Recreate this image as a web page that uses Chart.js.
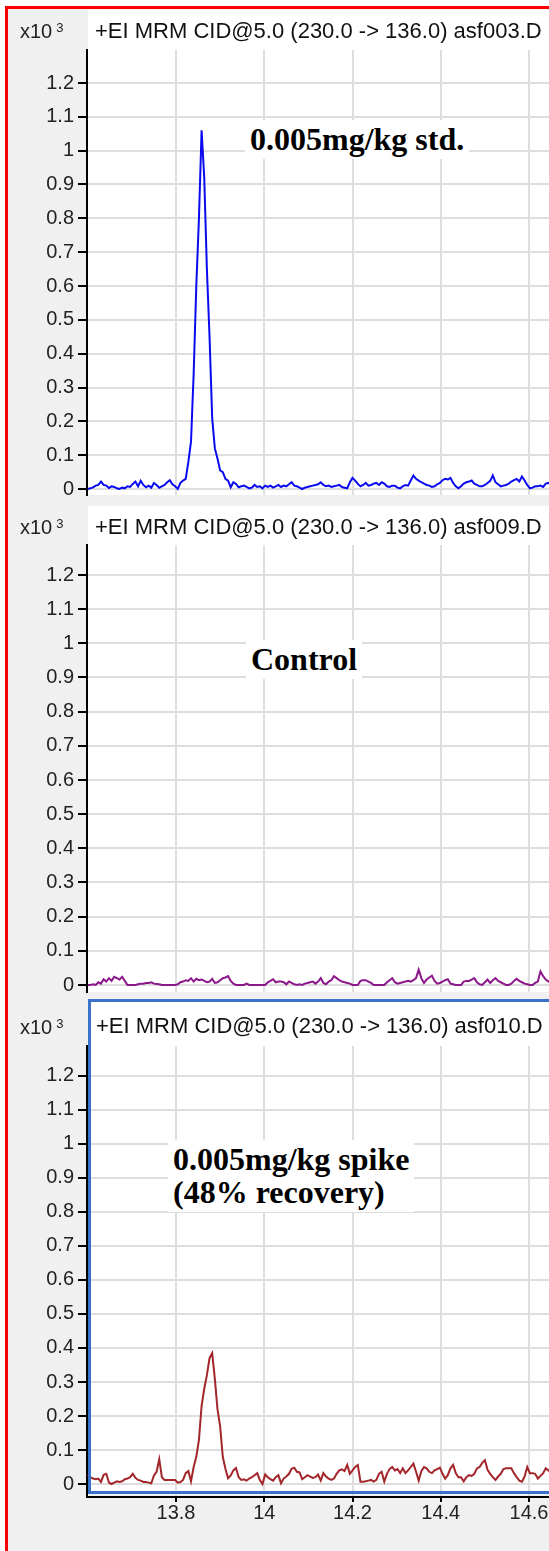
<!DOCTYPE html>
<html><head><meta charset="utf-8">
<script src="https://cdn.jsdelivr.net/npm/chart.js@4.4.1/dist/chart.umd.min.js"></script>
<style>
html,body{margin:0;padding:0;background:#fff;width:549px;height:1551px;overflow:hidden;position:relative;}
#frame{position:absolute;left:5px;top:6px;width:600px;height:1600px;border-left:3px solid #ff0000;border-top:3px solid #ff0000;background:#f0f0f0;}
.white{position:absolute;background:#fff;}
canvas{position:absolute;}
.mult{position:absolute;font:20px "Liberation Sans",Arial,sans-serif;color:#222;line-height:22px;white-space:nowrap;}
.mult sup{font-size:13px;vertical-align:top;position:relative;top:-3px;margin-left:4px;}
.title{position:absolute;font:22px "Liberation Sans",Arial,sans-serif;color:#111;white-space:nowrap;line-height:24px;}
.note{position:absolute;background:#fff;font:bold 32px "Liberation Serif","Times New Roman",serif;color:#000;white-space:nowrap;line-height:33px;padding:3px 5px;}
#blueBox{position:absolute;border:3px solid #3b72c9;}
</style></head>
<body>
<div id="frame"></div>
<div class="white" style="left:88px;top:10px;width:470px;height:485px;"></div>
<div class="white" style="left:88px;top:506px;width:470px;height:486px;"></div>
<div class="white" style="left:91px;top:1002px;width:470px;height:489px;"></div>

<canvas id="c1" width="541" height="469" style="left:8px;top:38px;"></canvas>
<canvas id="c2" width="541" height="471" style="left:8px;top:533px;"></canvas>
<canvas id="c3" width="541" height="493" style="left:8px;top:1034px;"></canvas>

<div id="blueBox" style="left:88px;top:999px;width:470px;height:489px;"></div>

<div class="mult" style="left:20px;top:20px;">x10<sup>3</sup></div>
<div class="title" style="left:95px;top:19px;">+EI MRM CID@5.0 (230.0 -&gt; 136.0) asf003.D</div>
<div class="mult" style="left:20px;top:516px;">x10<sup>3</sup></div>
<div class="title" style="left:95px;top:515px;">+EI MRM CID@5.0 (230.0 -&gt; 136.0) asf009.D</div>
<div class="mult" style="left:20px;top:1016px;">x10<sup>3</sup></div>
<div class="title" style="left:96px;top:1014px;">+EI MRM CID@5.0 (230.0 -&gt; 136.0) asf010.D</div>

<div class="note" style="left:245px;top:120px;">0.005mg/kg std.</div>
<div class="note" style="left:246px;top:640px;">Control</div>
<div class="note" style="left:168px;top:1140px;">0.005mg/kg spike<br>(48% recovery)</div>

<script>
// acquisition grid (retention time, min)
const startTime = 13.6;
const sampleInterval = 0.006;

// abundance, x10^3 counts
const stdValues = [0.000,0.002,0.005,0.010,0.012,0.022,0.012,0.010,0.003,0.008,
 0.006,0.002,0.000,0.004,0.002,0.008,0.006,0.015,0.022,0.008,
 0.024,0.012,0.005,0.010,0.004,0.018,0.012,0.004,0.008,0.012,
 0.020,0.026,0.014,0.008,0.000,0.018,0.025,0.030,0.080,0.140,
 0.340,0.600,0.800,1.060,0.920,0.650,0.450,0.210,0.120,0.090,
 0.055,0.050,0.030,0.025,0.005,0.020,0.015,0.005,0.008,0.010,
 0.006,0.002,0.004,0.012,0.006,0.008,0.002,0.010,0.006,0.010,
 0.004,0.008,0.012,0.006,0.010,0.008,0.014,0.020,0.010,0.008,
 0.004,0.000,0.004,0.006,0.008,0.010,0.012,0.014,0.020,0.012,
 0.008,0.010,0.006,0.008,0.010,0.012,0.006,0.004,0.002,0.020,
 0.033,0.025,0.015,0.008,0.012,0.018,0.010,0.012,0.016,0.018,
 0.012,0.020,0.016,0.008,0.006,0.010,0.010,0.004,0.002,0.008,
 0.012,0.010,0.025,0.040,0.030,0.025,0.020,0.016,0.012,0.010,
 0.006,0.008,0.014,0.018,0.026,0.030,0.028,0.033,0.018,0.008,
 0.002,0.008,0.016,0.020,0.022,0.025,0.016,0.012,0.008,0.008,
 0.012,0.018,0.024,0.040,0.020,0.014,0.008,0.010,0.012,0.016,
 0.022,0.026,0.030,0.022,0.037,0.025,0.012,0.002,0.004,0.008,
 0.008,0.010,0.006,0.016,0.018,0.015];

const controlValues = [0.000,0.000,0.002,0.000,0.008,0.004,0.017,0.010,0.020,0.012,
 0.024,0.020,0.016,0.024,0.012,0.000,0.000,0.000,0.000,0.002,
 0.004,0.004,0.006,0.006,0.008,0.004,0.003,0.002,0.000,0.000,
 0.000,0.000,0.000,0.000,0.002,0.008,0.010,0.014,0.012,0.020,
 0.010,0.018,0.014,0.016,0.012,0.008,0.010,0.018,0.006,0.008,
 0.014,0.020,0.022,0.026,0.012,0.004,0.000,0.000,0.000,0.000,
 0.004,0.000,0.000,0.000,0.000,0.000,0.000,0.000,0.008,0.012,
 0.017,0.008,0.010,0.010,0.008,0.002,0.010,0.006,0.002,0.000,
 0.002,0.000,0.004,0.006,0.008,0.010,0.004,0.010,0.020,0.006,
 0.002,0.010,0.014,0.026,0.020,0.014,0.010,0.008,0.006,0.004,
 0.000,0.000,0.000,0.012,0.014,0.014,0.010,0.006,0.000,0.000,
 0.000,0.000,0.000,0.008,0.014,0.020,0.008,0.004,0.006,0.008,
 0.010,0.012,0.010,0.014,0.020,0.045,0.020,0.006,0.016,0.022,
 0.027,0.012,0.004,0.006,0.010,0.014,0.017,0.004,0.002,0.000,
 0.000,0.000,0.010,0.012,0.012,0.016,0.020,0.008,0.002,0.000,
 0.008,0.016,0.006,0.014,0.020,0.012,0.008,0.004,0.000,0.000,
 0.004,0.012,0.018,0.012,0.008,0.004,0.002,0.000,0.000,0.006,
 0.010,0.040,0.026,0.016,0.010,0.008];

const spikeValues = [0.027,0.020,0.016,0.014,0.016,0.006,0.027,0.030,0.004,0.000,
 0.004,0.008,0.006,0.008,0.014,0.016,0.020,0.030,0.018,0.012,
 0.010,0.006,0.006,0.004,0.002,0.025,0.036,0.073,0.020,0.012,
 0.012,0.012,0.012,0.012,0.004,0.006,0.012,0.032,0.038,0.008,
 0.050,0.080,0.130,0.230,0.280,0.320,0.370,0.385,0.310,0.220,
 0.170,0.080,0.045,0.017,0.025,0.040,0.047,0.020,0.012,0.014,
 0.010,0.016,0.020,0.026,0.032,0.012,0.000,0.028,0.020,0.014,
 0.010,0.020,0.026,0.002,0.016,0.022,0.030,0.045,0.048,0.036,
 0.034,0.014,0.020,0.026,0.022,0.018,0.020,0.028,0.010,0.032,
 0.022,0.016,0.012,0.016,0.030,0.040,0.043,0.038,0.056,0.030,
 0.040,0.050,0.056,0.007,0.007,0.008,0.010,0.012,0.007,0.012,
 0.030,0.036,0.007,0.030,0.044,0.050,0.040,0.044,0.032,0.046,
 0.032,0.040,0.050,0.060,0.036,0.010,0.038,0.050,0.046,0.036,
 0.032,0.040,0.044,0.048,0.030,0.016,0.026,0.046,0.056,0.032,
 0.020,0.020,0.008,0.020,0.026,0.024,0.030,0.046,0.050,0.062,
 0.070,0.042,0.030,0.020,0.012,0.022,0.030,0.044,0.046,0.046,
 0.046,0.032,0.020,0.010,0.007,0.022,0.050,0.032,0.032,0.030,
 0.016,0.024,0.032,0.046,0.040,0.035];

const xTickValues = [13.8, 14, 14.2, 14.4, 14.6];
const xTickLabels = ['13.8', '14', '14.2', '14.4', '14.6'];
const yTickValues = [0, 0.1, 0.2, 0.3, 0.4, 0.5, 0.6, 0.7, 0.8, 0.9, 1, 1.1, 1.2];
const yTickLabels = ['0', '0.1', '0.2', '0.3', '0.4', '0.5', '0.6', '0.7', '0.8', '0.9', '1', '1.1', '1.2'];

const X_MIN = 13.5983, X_MAX = 14.6453;
const FONT = '"Liberation Sans", Arial, sans-serif';

function toPoints(vals) {
  return vals.map((v, i) => ({ x: startTime + i * sampleInterval, y: v }));
}

function buildChart(id, vals, color, yMin, yMax, showX) {
  return new Chart(document.getElementById(id), {
    type: 'line',
    data: { datasets: [{ data: toPoints(vals), borderColor: color, borderWidth: 2, pointRadius: 0, tension: 0, fill: false }] },
    options: {
      responsive: false, animation: false, events: [], devicePixelRatio: 1,
      layout: { padding: { top: 12, bottom: showX ? 0 : 12, left: 0, right: 0 } },
      plugins: { legend: { display: false }, tooltip: { enabled: false } },
      scales: {
        x: {
          type: 'linear', min: X_MIN, max: X_MAX,
          afterBuildTicks: s => { s.ticks = xTickValues.map(v => ({ value: v })); },
          afterFit: s => { s.paddingLeft = 0; s.paddingRight = 0; s.height = showX ? 30 : 0; },
          grid: { color: '#dedede', lineWidth: 2, drawTicks: showX, tickLength: 5, tickColor: '#000', tickWidth: 2 },
          border: { display: showX, color: '#000', width: 2 },
          ticks: { display: showX, padding: -1, color: '#222', font: { family: FONT, size: 20 }, maxRotation: 0, autoSkip: false,
                   callback: (v, i) => xTickLabels[i] }
        },
        y: {
          min: yMin, max: yMax,
          afterBuildTicks: s => { s.ticks = yTickValues.map(v => ({ value: v })); },
          afterFit: s => { s.width = 79; s.paddingTop = 0; s.paddingBottom = 0; },
          grid: { color: '#dedede', lineWidth: 2, drawTicks: true, tickLength: 9, tickColor: '#000', tickWidth: 2 },
          border: { display: true, color: '#000', width: 2 },
          ticks: { padding: 4, color: '#222', font: { family: FONT, size: 20 }, autoSkip: false,
                   callback: (v, i) => yTickLabels[i] }
        }
      }
    }
  });
}

buildChart('c1', stdValues, '#0a0af0', -0.0177, 1.2975, false);
buildChart('c2', controlValues, '#8b178b', -0.0205, 1.2878, false);
buildChart('c3', spikeValues, '#a3262b', -0.0382, 1.288, true);
</script>
</body></html>
